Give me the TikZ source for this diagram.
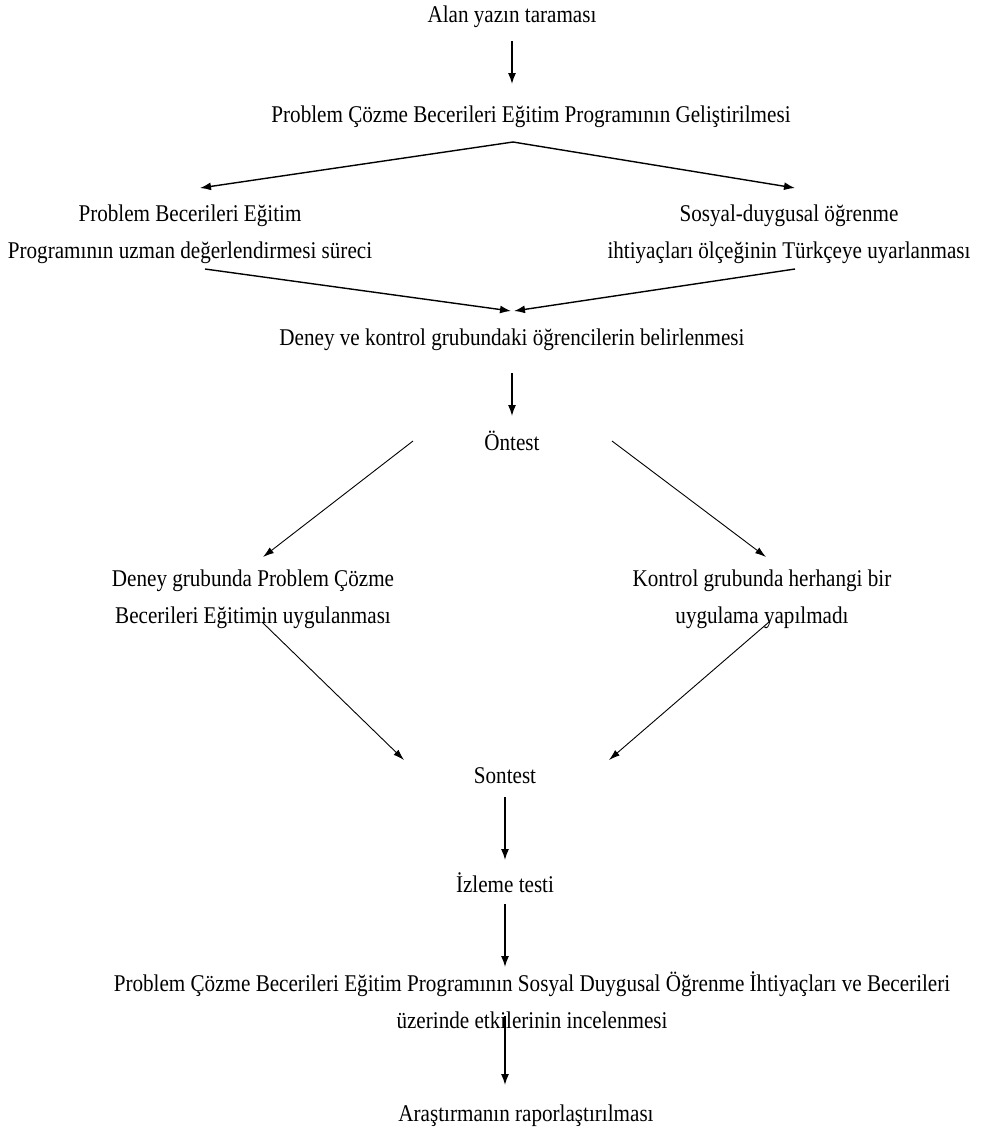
\documentclass[tikz,border=0pt]{standalone}
\usepackage{fontspec}
\setmainfont{Liberation Serif}[FakeStretch=0.88]
\usetikzlibrary{arrows.meta}
\begin{document}
\begin{tikzpicture}[x=1pt,y=-1pt,
  lbl/.style={inner sep=0pt, anchor=base, font=\fontsize{24}{37}\selectfont, align=center},
  arr/.style={-{Latex[length=11pt,width=8pt]}, line width=1.4pt},
  thinarr/.style={-{Latex[length=11pt,width=7pt]}, line width=0.9pt}]
\useasboundingbox (0,0) rectangle (985,1136);
\fill[white] (0,0) rectangle (985,1136);
% nodes (anchor base = baseline of the last line)
\node[lbl] (n1) at (512,22) {Alan yazın taraması};
\node[lbl] (n2) at (531,122) {Problem Çözme Becerileri Eğitim Programının Geliştirilmesi};
\node[lbl] (n3) at (190,258) {Problem Becerileri Eğitim\\Programının uzman değerlendirmesi süreci};
\node[lbl] (n4) at (789,258) {Sosyal-duygusal öğrenme\\ihtiyaçları ölçeğinin Türkçeye uyarlanması};
\node[lbl] (n5) at (512,345) {Deney ve kontrol grubundaki öğrencilerin belirlenmesi};
\node[lbl] (n6) at (512,450) {Öntest};
\node[lbl] (n7) at (253,623) {Deney grubunda Problem Çözme\\Becerileri Eğitimin uygulanması};
\node[lbl] (n8) at (762,623) {Kontrol grubunda herhangi bir\\uygulama yapılmadı};
\node[lbl] (n9) at (505,783) {Sontest};
\node[lbl] (n10) at (505,892) {İzleme testi};
\node[lbl] (n11) at (532,1028) {Problem Çözme Becerileri Eğitim Programının Sosyal Duygusal Öğrenme İhtiyaçları ve Becerileri\\üzerinde etkilerinin incelenmesi};
\node[lbl] (n12) at (526,1121) {Araştırmanın raporlaştırılması};
% connector end points
\coordinate (n1o) at (512,41);   \coordinate (n2i) at (512,84);
\coordinate (n2o) at (513,142);
\coordinate (n3i) at (200,188);  \coordinate (n4i) at (795,188);
\coordinate (n3o) at (205,269);  \coordinate (n4o) at (795,269);
\coordinate (n5iL) at (511,311); \coordinate (n5iR) at (514,311);
\coordinate (n5o) at (512,373);  \coordinate (n6i) at (512,416);
\coordinate (n6oL) at (413,441); \coordinate (n6oR) at (612,441);
\coordinate (n7i) at (263,557);  \coordinate (n8i) at (766,557);
\coordinate (n7o) at (262,622);  \coordinate (n8o) at (769,622);
\coordinate (n9iL) at (404,760); \coordinate (n9iR) at (609,760);
\coordinate (n9o) at (505,797);  \coordinate (n10i) at (505,860);
\coordinate (n10o) at (505,904); \coordinate (n11i) at (505,967);
\coordinate (n11o) at (505,1016);\coordinate (n12i) at (505,1085);
% connectors
\draw[arr] (n1o) -- (n2i);
\draw[arr] (n2o) -- (n3i);
\draw[arr] (n2o) -- (n4i);
\draw[arr] (n3o) -- (n5iL);
\draw[arr] (n4o) -- (n5iR);
\draw[arr] (n5o) -- (n6i);
\draw[thinarr] (n6oL) -- (n7i);
\draw[thinarr] (n6oR) -- (n8i);
\draw[thinarr] (n7o) -- (n9iL);
\draw[thinarr] (n8o) -- (n9iR);
\draw[arr] (n9o) -- (n10i);
\draw[arr] (n10o) -- (n11i);
\draw[arr] (n11o) -- (n12i);
\end{tikzpicture}
\end{document}
